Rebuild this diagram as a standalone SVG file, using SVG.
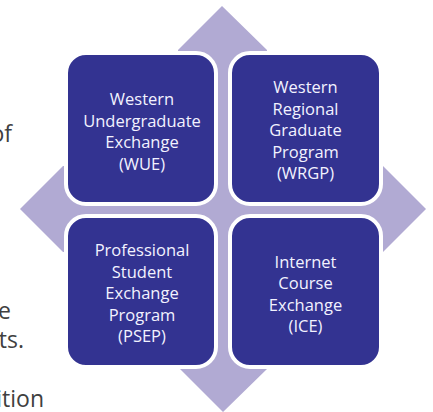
<svg xmlns="http://www.w3.org/2000/svg" width="433" height="412" viewBox="0 0 433 412">
<style>
.box{fill:#333391;stroke:#ffffff;stroke-width:4}
.lbl{font-family:"Open Sans","Noto Sans",sans-serif;font-size:16.5px;fill:#f2f2ff;text-anchor:middle}
.body{font-family:"Open Sans","Noto Sans",sans-serif;font-size:23px;fill:#404040;text-anchor:end}
</style>
<rect width="433" height="412" fill="#ffffff"/>
<g id="page-text">
<text class="body" x="12" y="142">of</text>
<text class="body" x="11" y="319">e</text>
<text class="body" x="24" y="348">ts.</text>
<text class="body" x="44" y="407">ition</text>
</g>
<g id="arrows">
<polygon fill="#b1aad3" points="178,50 222,6 267,50 267,166 383,166 426,209 383,252 267,252 267,369 223,412 180,369 180,252 63,252 20,209 63,166 178,166"/>
</g>
<g id="wue">
<rect class="box" x="66" y="53" width="150" height="151" rx="20"/>
<text class="lbl" x="142" y="105">Western</text>
<text class="lbl" x="142" y="126.5">Undergraduate</text>
<text class="lbl" x="142" y="148">Exchange</text>
<text class="lbl" x="142" y="169.5">(WUE)</text>
</g>
<g id="wrgp">
<rect class="box" x="230" y="53" width="151" height="151" rx="20"/>
<text class="lbl" x="305.5" y="93">Western</text>
<text class="lbl" x="305.5" y="114.5">Regional</text>
<text class="lbl" x="305.5" y="136">Graduate</text>
<text class="lbl" x="305.5" y="157.5">Program</text>
<text class="lbl" x="305.5" y="179">(WRGP)</text>
</g>
<g id="psep">
<rect class="box" x="66" y="216" width="150" height="151" rx="20"/>
<text class="lbl" x="142" y="256">Professional</text>
<text class="lbl" x="142" y="277.5">Student</text>
<text class="lbl" x="142" y="299">Exchange</text>
<text class="lbl" x="142" y="320.5">Program</text>
<text class="lbl" x="142" y="342">(PSEP)</text>
</g>
<g id="ice">
<rect class="box" x="230" y="216" width="151" height="151" rx="20"/>
<text class="lbl" x="305.5" y="267.5">Internet</text>
<text class="lbl" x="305.5" y="289">Course</text>
<text class="lbl" x="305.5" y="310.5">Exchange</text>
<text class="lbl" x="305.5" y="332">(ICE)</text>
</g>
</svg>
